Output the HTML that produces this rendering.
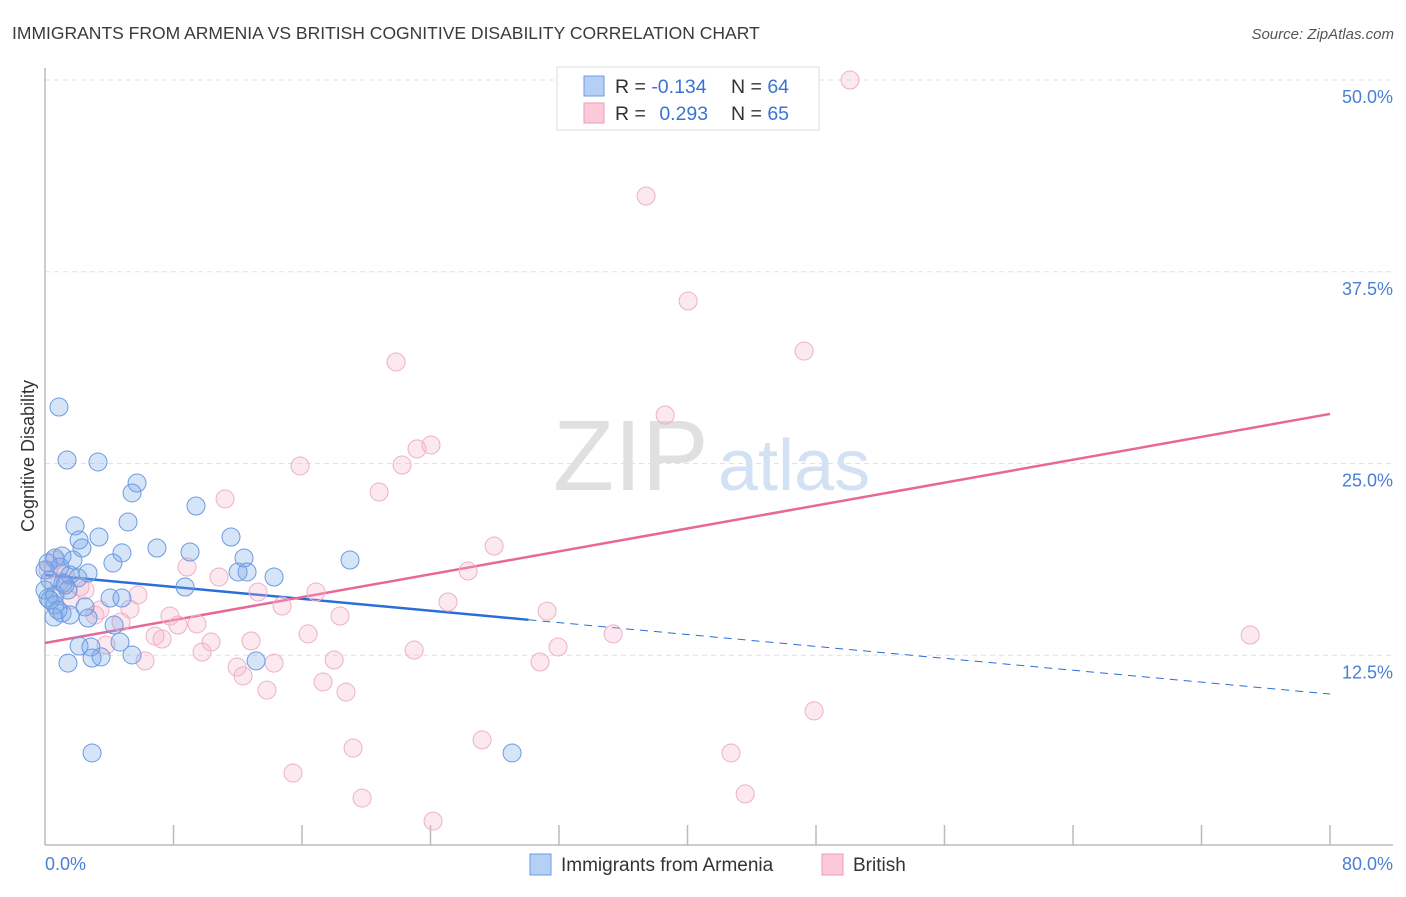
<!DOCTYPE html>
<html><head><meta charset="utf-8"><style>
body{margin:0;background:#fff;font-family:"Liberation Sans",sans-serif;}
svg text{font-family:"Liberation Sans",sans-serif;}
</style></head><body>
<svg id="chart" width="1406" height="892" xmlns="http://www.w3.org/2000/svg">
<text x="12" y="39" font-size="17.5" fill="#3a3a3a">IMMIGRANTS FROM ARMENIA VS BRITISH COGNITIVE DISABILITY CORRELATION CHART</text>
<text x="1394" y="39" font-size="15" fill="#555" font-style="italic" text-anchor="end">Source: ZipAtlas.com</text>
<g>
<text x="553" y="490" font-size="100" fill="#e0e0e0" font-family="Liberation Serif, serif">ZIP</text>
<text x="718" y="490" font-size="72" fill="#d3e1f5">atlas</text>
</g>
<g id="grid"></g>
<line x1="45" y1="68" x2="45" y2="845" stroke="#bbb" stroke-width="1.5"/>
<line x1="45" y1="845" x2="1393" y2="845" stroke="#bbb" stroke-width="1.5"/>
<g id="ticks"></g>
<text transform="translate(34,456) rotate(-90)" font-size="18" fill="#333" text-anchor="middle">Cognitive Disability</text>
<text x="45" y="870" font-size="18" fill="#4a7fd4">0.0%</text>
<text x="1393" y="870" font-size="18" fill="#4a7fd4" text-anchor="end">80.0%</text>
<g id="lines"></g>
<g id="points"></g>
<g>
<rect x="557" y="67" width="262" height="63" fill="#fff" stroke="#ddd"/>
<rect x="584" y="76" width="20" height="20" fill="#b5cff5" stroke="#6d9be3"/>
<rect x="584" y="103" width="20" height="20" fill="#fbc9d8" stroke="#eb9db7"/>
<text x="615" y="93" font-size="19.5" fill="#333">R = <tspan fill="#3b73d1">-0.134</tspan></text>
<text x="731" y="93" font-size="19.5" fill="#333">N = <tspan fill="#3b73d1">64</tspan></text>
<text x="615" y="120" font-size="19.5" fill="#333">R = <tspan fill="#3b73d1" dx="8">0.293</tspan></text>
<text x="731" y="120" font-size="19.5" fill="#333">N = <tspan fill="#3b73d1">65</tspan></text>
</g>
<g>
<rect x="530" y="854" width="21" height="21" fill="#b5cff5" stroke="#6d9be3"/>
<text x="561" y="871" font-size="19" fill="#333">Immigrants from Armenia</text>
</g>
<g>
<rect x="822" y="854" width="21" height="21" fill="#fbc9d8" stroke="#eb9db7"/>
<text x="853" y="871" font-size="19" fill="#333">British</text>
</g>
</svg>
<script>
const yTicks=[12.5,25,37.5,50];
const yTickLabels=["12.5%","25.0%","37.5%","50.0%"];
const xTickVals=[0,8,16,24,32,40,48,56,64,72,80];
const blueX=[0.87,1.37,3.30,5.73,5.42,9.40,5.17,1.87,3.36,11.58,2.12,2.30,6.97,9.03,4.79,18.99,12.39,0.62,1.06,1.74,4.23,0.19,0.93,2.68,12.02,12.58,14.26,1.56,2.05,0.31,1.12,0,1.43,0.62,8.72,4.05,4.79,0.19,0.62,2.49,2.68,0.56,1.06,1.56,4.30,4.67,2.12,2.86,5.42,3.49,2.93,1.43,13.14,29.08,2.93,0,0.31,0.81,1.25];
const blueY=[28.68,25.23,25.10,23.73,23.08,22.23,21.19,20.93,20.21,20.21,20.01,19.49,19.49,19.23,19.17,18.71,18.84,18.84,18.97,18.71,18.51,18.51,18.25,17.86,17.93,17.93,17.60,17.73,17.54,17.41,17.21,16.75,16.75,16.43,16.95,16.23,16.23,16.23,15.78,15.65,14.93,14.99,15.25,15.12,14.47,13.36,13.10,13.04,12.52,12.39,12.32,11.99,12.13,6.13,6.13,18.06,16.10,15.45,17.08];
const pinkX=[50.12,37.42,40.04,47.26,21.86,38.61,24.03,23.16,22.23,15.88,20.80,11.21,27.96,26.34,8.84,10.83,16.87,13.26,5.79,14.76,25.09,31.26,18.37,7.78,5.29,9.46,4.73,8.28,16.38,35.37,75.03,6.85,7.29,10.34,12.83,3.80,31.94,22.98,9.78,18.00,6.23,30.82,11.96,14.26,12.33,17.31,18.74,13.82,47.88,27.21,19.18,42.71,15.44,43.59,19.74,24.16,2.18,0.93,0.19,1.56,3.11,0.62,1.25,2.49,3.42];
const pinkY=[50.0,42.44,35.59,32.33,31.62,28.16,26.21,25.95,24.90,24.84,23.14,22.69,19.62,17.99,18.25,17.60,16.62,16.62,16.43,15.71,15.97,15.38,15.06,15.06,15.51,14.54,14.67,14.47,13.89,13.89,13.82,13.75,13.56,13.36,13.43,13.17,13.04,12.84,12.71,12.19,12.13,12.06,11.73,11.99,11.15,10.76,10.10,10.23,8.87,6.98,6.45,6.13,4.82,3.46,3.19,1.69,16.95,17.28,18.06,16.10,15.12,18.71,17.73,16.75,15.45];
const blueTrend=[17.73,9.97];
const blueSolidEnd=30.1;
const pinkTrend=[13.30,28.23];
const NS="http://www.w3.org/2000/svg";
const sx=v=>45+v*1285/80;
const sy=v=>847-v*15.34;
function mk(tag,attrs,parent){const e=document.createElementNS(NS,tag);for(const k in attrs)e.setAttribute(k,attrs[k]);document.getElementById(parent).appendChild(e);return e;}
yTicks.forEach((t,i)=>{
 const g=mk('line',{x1:45,x2:1393,y1:sy(t),y2:sy(t),stroke:'#e2e2e2','stroke-dasharray':'5,4'},'grid');
 
 
 const tx=mk('text',{x:1393,y:sy(t)+23,'font-size':18,fill:'#4a7fd4','text-anchor':'end'},'grid');
 tx.textContent=yTickLabels[i];
 
 
});
xTickVals.forEach(v=>{
 if(v===0)return;
 const l=mk('line',{x1:sx(v),x2:sx(v),y1:825,y2:845,stroke:'#bbb','stroke-width':1.5},'ticks');
 
 
});
function pts(xs,ys,fill,stroke,name){
 xs.forEach((x,i)=>{
  const c=mk('circle',{cx:sx(x),cy:sy(ys[i]),r:9,fill:fill,stroke:stroke,'stroke-width':1},'points');
  
  
 });
}
pts(pinkX,pinkY,'rgba(245,175,200,0.28)','#eeb0c6','british-point');
pts(blueX,blueY,'rgba(120,165,232,0.3)','#6a9be3','armenia-point');
const bAt=x=>blueTrend[0]+(blueTrend[1]-blueTrend[0])*x/80;
const pAt=x=>pinkTrend[0]+(pinkTrend[1]-pinkTrend[0])*x/80;
let l=mk('line',{x1:sx(0),y1:sy(bAt(0)),x2:sx(blueSolidEnd),y2:sy(bAt(blueSolidEnd)),stroke:'#2a6fd8','stroke-width':2.5},'lines');


l=mk('line',{x1:sx(blueSolidEnd),y1:sy(bAt(blueSolidEnd)),x2:sx(80),y2:sy(bAt(80)),stroke:'#2a6fd8','stroke-width':1,'stroke-dasharray':'8,6'},'lines');


l=mk('line',{x1:sx(0),y1:sy(pAt(0)),x2:sx(80),y2:sy(pAt(80)),stroke:'#e8679a','stroke-width':2.5},'lines');


</script>
</body></html>
